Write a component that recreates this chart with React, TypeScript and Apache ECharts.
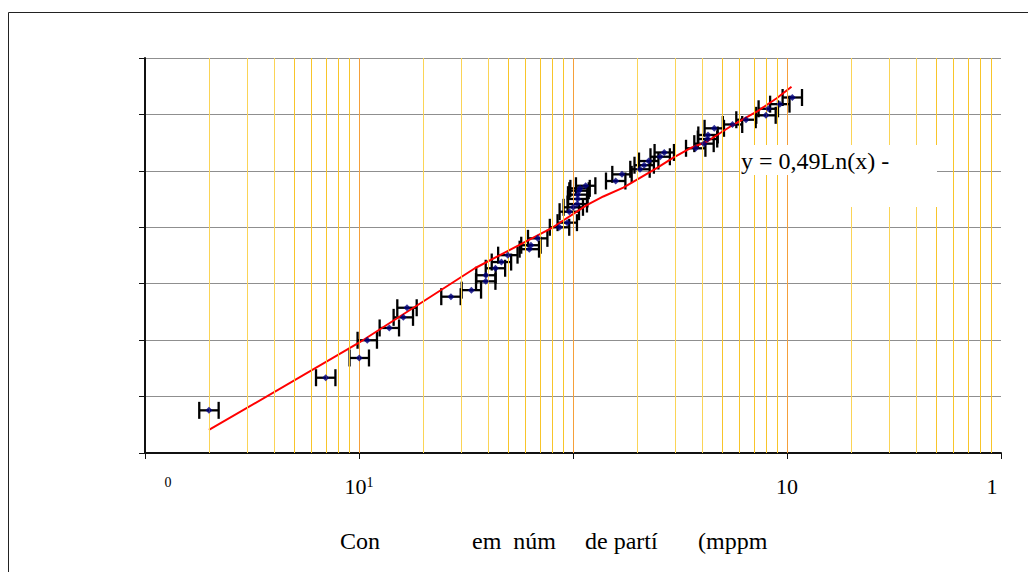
import React, { useEffect, useRef } from "react";
import * as echarts from "echarts";

const X_VALUES = [1.99, 6.99, 10.03, 10.93, 13.86, 16.11, 16.76, 26.9, 33.5, 39.1, 39.2, 43.4, 46.3, 49.6, 62.5, 63.6, 68.4, 86.5, 94.0, 96.1, 100.3, 104.7, 105.2, 105.2, 106.7, 107.9, 114.6, 158.3, 169.4, 205.6, 215.1, 225.8, 255.5, 267.0, 374.5, 409.4, 425.2, 427.5, 457.3, 556.4, 643.3, 797.5, 817.7, 925.6, 1058.8];
const Y_VALUES = [0.378, 0.667, 0.842, 0.999, 1.108, 1.202, 1.287, 1.385, 1.443, 1.521, 1.575, 1.637, 1.692, 1.753, 1.806, 1.841, 1.902, 2.0, 2.041, 2.138, 2.177, 2.206, 2.251, 2.289, 2.324, 2.345, 2.368, 2.41, 2.469, 2.514, 2.55, 2.587, 2.625, 2.663, 2.7, 2.741, 2.782, 2.818, 2.877, 2.911, 2.953, 2.992, 3.05, 3.091, 3.15];
// Horizontal error: relative factor
const X_ERR_FACTOR = 1.11;

// Red trend line
const TREND_X = [1.99, 10.0, 34.8, 80.6, 115.9, 138.6, 171.8, 205.6, 246.1, 294.3, 352.2, 421.5, 541.6, 721.8, 895.2, 1049.6];
const TREND_Y = [0.204, 0.977, 1.637, 2.0, 2.197, 2.273, 2.352, 2.437, 2.525, 2.618, 2.7, 2.758, 2.891, 3.024, 3.143, 3.246];

// Axis definitions
const X_MIN = 1;
const X_MAX = 10000;
const X_TICK_LABELS: Record<string, string> = { "1": "{small|0}", "10": "10{sup|1}", "100": "", "1000": "10", "10000": "{last|1}" };
const Y_MIN = 0;
const Y_MAX = 3.5;
const Y_INTERVAL = 0.5;
const MINOR_GRID_LIGHT = [2, 3, 4, 20, 30, 40, 200, 300, 400, 2000, 3000, 4000];
const MINOR_GRID = [5, 6, 7, 8, 9, 50, 60, 70, 80, 90, 500, 600, 700, 800, 900, 5000, 6000, 7000, 8000, 9000];
const DECADE_GRID = [10, 100, 1000];

const EQUATION = "y = 0,49Ln(x) -";
const TITLE_PARTS = ["Con", "em  núm", "de partí", "(mppm"];

const FONT = "Liberation Serif";

export default function App() {
  const ref = useRef<HTMLDivElement>(null);
  useEffect(() => {
    if (!ref.current) return;
    const chart = echarts.init(ref.current, null, { renderer: "svg" });
    const points = X_VALUES.map((x, i) => [x, Y_VALUES[i]]);
    const errData = X_VALUES.map((x, i) => [x, Y_VALUES[i], x / X_ERR_FACTOR, x * X_ERR_FACTOR]);
    const trend = TREND_X.map((x, i) => [x, TREND_Y[i]]);
    const gridLines = [
      ...MINOR_GRID_LIGHT.map((v) => ({ xAxis: v, lineStyle: { color: "#FBD456", width: 1, type: "solid" } })),
      ...MINOR_GRID.map((v) => ({ xAxis: v, lineStyle: { color: "#F8C52A", width: 1, type: "solid" } })),
      ...DECADE_GRID.map((v) => ({ xAxis: v, lineStyle: { color: "#F5A03A", width: 1, type: "solid" } })),
    ];
    const titleX = [340, 472, 585, 698];
    chart.setOption({
      animation: false,
      backgroundColor: "#ffffff",
      textStyle: { fontFamily: FONT },
      grid: { left: 145, right: 27, top: 58, bottom: 119, containLabel: false },
      xAxis: {
        type: "log",
        logBase: 10,
        min: X_MIN,
        max: X_MAX,
        splitNumber: 4,
        axisLine: { show: true, lineStyle: { color: "#111", width: 2 } },
        axisTick: { show: true, inside: false, length: 6, lineStyle: { color: "#111", width: 1 } },
        splitLine: { show: false },
        axisLabel: {
          show: true,
          margin: 22,
          fontFamily: FONT,
          fontSize: 22,
          color: "#000",
          showMinLabel: true,
          showMaxLabel: true,
          formatter: (v: number) => {
            const key = String(Math.round(v));
            return X_TICK_LABELS[key] ?? "";
          },
          rich: {
            small: { fontFamily: FONT, fontSize: 14, color: "#000", padding: [0, 0, 0, 46] },
            sup: { fontFamily: FONT, fontSize: 14, color: "#000", verticalAlign: "top", padding: [0, 0, 8, 0] },
            last: { fontFamily: FONT, fontSize: 22, color: "#000", padding: [0, 18, 0, 0] },
          },
        },
      },
      yAxis: {
        type: "value",
        min: Y_MIN,
        max: Y_MAX,
        interval: Y_INTERVAL,
        axisLine: { show: true, lineStyle: { color: "#111", width: 2 } },
        axisTick: { show: true, inside: false, length: 6, lineStyle: { color: "#111", width: 1 } },
        axisLabel: { show: false },
        splitLine: { show: true, lineStyle: { color: "#8f8f8f", width: 1 } },
      },
      series: [
        {
          type: "line",
          data: [],
          silent: true,
          z: 1,
          markLine: {
            silent: true,
            symbol: ["none", "none"],
            label: { show: false },
            animation: false,
            data: gridLines,
          },
        },
        {
          type: "custom",
          data: errData,
          z: 3,
          encode: { x: 0, y: 1 },
          renderItem: (params: any, api: any) => {
            const y = api.value(1);
            const p1 = api.coord([api.value(2), y]);
            const p2 = api.coord([api.value(3), y]);
            const h = 8.5;
            const style = { stroke: "#000", lineWidth: 2.3 };
            return {
              type: "group",
              children: [
                { type: "line", shape: { x1: p1[0], y1: p1[1], x2: p2[0], y2: p2[1] }, style },
                { type: "line", shape: { x1: p1[0], y1: p1[1] - h, x2: p1[0], y2: p1[1] + h }, style },
                { type: "line", shape: { x1: p2[0], y1: p2[1] - h, x2: p2[0], y2: p2[1] + h }, style },
              ],
            };
          },
        },
        {
          type: "line",
          data: trend,
          z: 4,
          symbol: "none",
          lineStyle: { color: "#FF0000", width: 2 },
        },
        {
          type: "scatter",
          data: points,
          z: 5,
          symbol: "diamond",
          symbolSize: 7,
          itemStyle: { color: "#000080" },
        },
      ],
      graphic: [
        {
          type: "rect",
          z: -10,
          shape: { x: 8.5, y: 12.5, width: 1100, height: 700 },
          style: { fill: "none", stroke: "#222", lineWidth: 1 },
          silent: true,
        },
        { type: "rect", z: 100, shape: { x: 740, y: 145, width: 197, height: 30 }, style: { fill: "#fff" } },
        { type: "rect", z: 100, shape: { x: 848, y: 175, width: 89, height: 32 }, style: { fill: "#fff" } },
        {
          type: "text",
          z: 101,
          x: 741,
          y: 161,
          style: { text: EQUATION, fontFamily: FONT, fontSize: 24, fill: "#000", verticalAlign: "middle", align: "left" },
        },
        ...TITLE_PARTS.map((t, i) => ({
          type: "text",
          z: 101,
          x: titleX[i],
          y: 541,
          style: { text: t, fontFamily: FONT, fontSize: 24, fill: "#000", verticalAlign: "middle", align: "left" },
        })),
      ],
    });
    return () => chart.dispose();
  }, []);
  return <div ref={ref} style={{ position: "fixed", left: 0, top: 0, width: 1028, height: 572, background: "#fff" }} />;
}
